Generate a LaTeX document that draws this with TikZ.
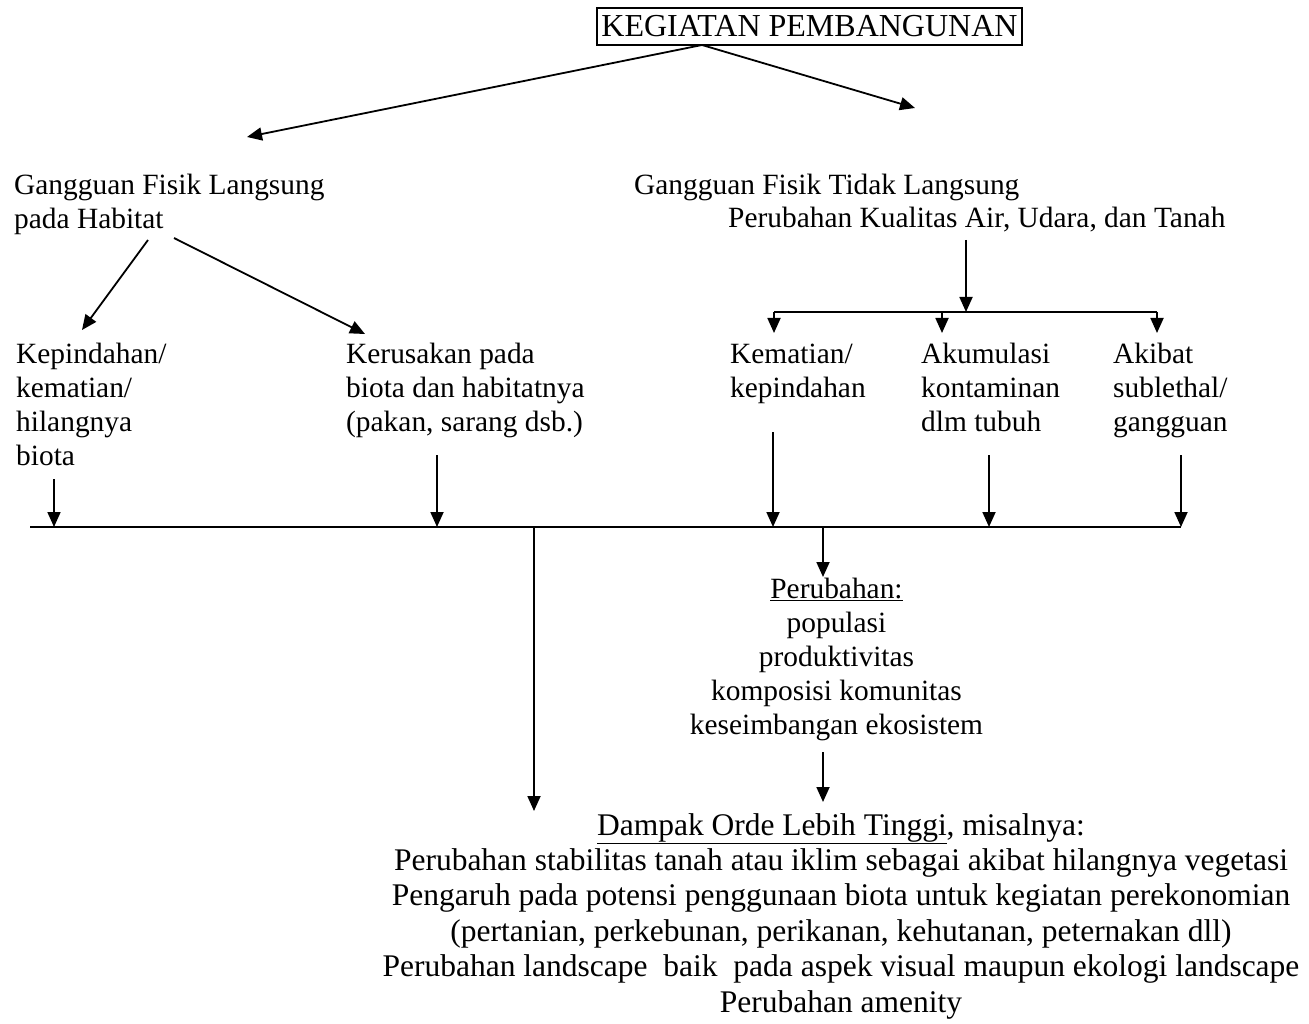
\documentclass[tikz,border=0pt]{standalone}
\usepackage{fontspec}
\setmainfont{Liberation Serif}
\usetikzlibrary{arrows.meta}
\begin{document}
\begin{tikzpicture}[x=1pt,y=-1pt,
  titlebox/.style={draw, line width=1.5pt, font=\fontsize{32}{38}\selectfont, minimum width=425pt, minimum height=37pt, inner sep=0pt},
  txt/.style={font=\fontsize{29.4}{34}\selectfont, inner sep=0pt, align=left, anchor=base west},
  ctr/.style={font=\fontsize{29.4}{34}\selectfont, inner sep=0pt, align=center, anchor=base},
  bigctr/.style={font=\fontsize{31.5}{35.4}\selectfont, inner sep=0pt, align=center, anchor=base},
  conn/.style={line width=1.8pt, -{Triangle[length=15pt,width=13pt]}},
  plainline/.style={line width=1.8pt}]
\useasboundingbox (0,0) rectangle (1309,1024);

% nodes (anchor base = baseline of the last line)
\node[titlebox] (title) at (809.5,26.5) {KEGIATAN PEMBANGUNAN};
\node[txt] (gfl) at (14,229) {Gangguan Fisik Langsung\\pada Habitat};
\node[txt] (gftl) at (634,195) {Gangguan Fisik Tidak Langsung};
\node[txt] (pk) at (728,228) {Perubahan Kualitas Air, Udara, dan Tanah};
\node[txt] (kep) at (16,465) {Kepindahan/\\kematian/\\hilangnya\\biota};
\node[txt] (ker) at (346,431) {Kerusakan pada\\biota dan habitatnya\\(pakan, sarang dsb.)};
\node[txt] (kem) at (730,397) {Kematian/\\kepindahan};
\node[txt] (aku) at (921,431) {Akumulasi\\kontaminan\\dlm tubuh};
\node[txt] (aki) at (1113,431) {Akibat\\sublethal/\\gangguan};
\node[ctr] (per) at (836.5,734) {\underline{Perubahan:}\\populasi\\produktivitas\\komposisi komunitas\\keseimbangan ekosistem};
\node[bigctr] (dam) at (841,1012) {\underline{Dampak Orde Lebih Tinggi}, misalnya:\\
Perubahan stabilitas tanah atau iklim sebagai akibat hilangnya vegetasi\\
Pengaruh pada potensi penggunaan biota untuk kegiatan perekonomian\\
(pertanian, perkebunan, perikanan, kehutanan, peternakan dll)\\
Perubahan landscape\ \ baik\ \ pada aspek visual maupun ekologi landscape\\
Perubahan amenity};

% connector end points
\coordinate (t0) at (702,45);
\coordinate (gflA) at (247,137);
\coordinate (gftlA) at (915,108);
\coordinate (h1) at (148,240);
\coordinate (h1e) at (82,330);
\coordinate (h2) at (174,238);
\coordinate (h2e) at (365,334);
\coordinate (q0) at (966,240);
\coordinate (q1) at (966,312);
\coordinate (bL) at (774,312);
\coordinate (bM) at (942,312);
\coordinate (bR) at (1157,312);
\coordinate (busL) at (30,527);
\coordinate (busR) at (1181,527);

% top arrows
\draw[conn] (t0) -- (gflA);
\draw[conn] (t0) -- (gftlA);
\draw[conn] (h1) -- (h1e);
\draw[conn] (h2) -- (h2e);
\draw[conn] (q0) -- (q1);
\draw[plainline] (bL) -- (bR);
\draw[conn] (bL) -- (774,333);
\draw[conn] (bM) -- (942,333);
\draw[conn] (bR) -- (1157,333);

% bus line
\draw[plainline] (busL) -- (busR);
\draw[conn] (54,479) -- (54,527);
\draw[conn] (437,455) -- (437,527);
\draw[conn] (773,432) -- (773,527);
\draw[conn] (989,455) -- (989,527);
\draw[conn] (1181,455) -- (1181,527);

% below bus
\draw[conn] (534,527) -- (534,811);
\draw[conn] (823,527) -- (823,577);
\draw[conn] (823,752) -- (823,802);
\end{tikzpicture}
\end{document}
